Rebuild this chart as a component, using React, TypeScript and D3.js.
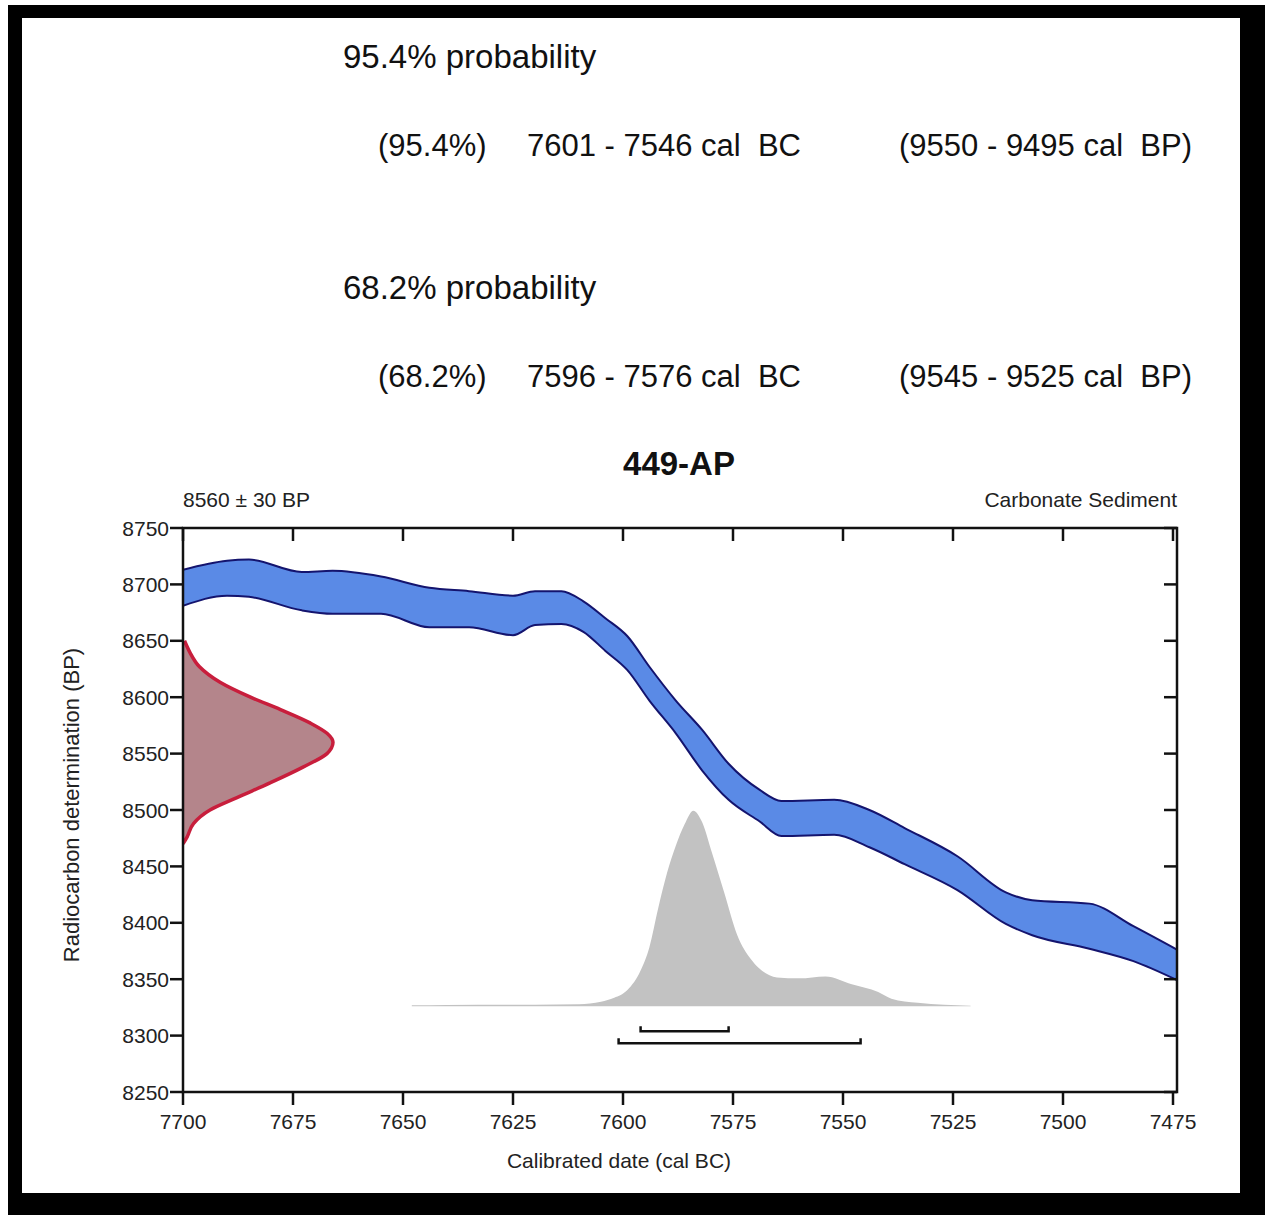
import { useEffect, useRef } from "react";
import * as d3 from "d3";

// axis ticks
const xTicks = [7700, 7675, 7650, 7625, 7600, 7575, 7550, 7525, 7500, 7475];
const yTicks = [8250, 8300, 8350, 8400, 8450, 8500, 8550, 8600, 8650, 8700, 8750];

// calibration curve band (cal BC, upper / lower BP)
const calYears = [7700, 7690, 7685, 7673, 7666, 7655, 7644, 7635, 7625, 7620, 7614, 7609, 7604, 7599, 7594, 7588, 7582, 7576, 7569, 7564, 7552, 7544, 7536, 7524, 7513, 7507, 7494, 7484, 7474];
const calUpper = [8713, 8721, 8722, 8711, 8712, 8707, 8697, 8694, 8690, 8694, 8694, 8685, 8670, 8654, 8627, 8597, 8571, 8541, 8518, 8508, 8509, 8500, 8484, 8459, 8427, 8420, 8417, 8397, 8376];
const calLower = [8681, 8690, 8689, 8677, 8674, 8674, 8662, 8662, 8655, 8664, 8665, 8658, 8641, 8624, 8597, 8568, 8535, 8509, 8490, 8477, 8478, 8467, 8452, 8429, 8399, 8389, 8377, 8366, 8349];

// radiocarbon measurement 8560 ± 30 BP (relative density)
const measuredBP = [8650, 8640, 8627, 8613, 8600, 8589, 8577, 8568, 8560, 8550, 8538, 8524, 8511, 8500, 8488, 8476, 8470];
const measuredDensity = [0.01, 0.045, 0.11, 0.25, 0.45, 0.65, 0.85, 0.96, 1, 0.96, 0.8, 0.58, 0.36, 0.18, 0.07, 0.027, 0];

// calibrated distribution (relative probability)
const calibratedYears = [7648, 7640, 7620, 7610, 7605, 7602, 7599, 7596, 7594, 7592, 7590, 7588, 7586, 7584, 7582, 7580, 7577, 7574, 7571, 7569, 7565, 7560, 7554, 7548, 7542, 7539, 7533, 7527, 7521];
const calibratedDensity = [0.002, 0.004, 0.005, 0.007, 0.02, 0.04, 0.08, 0.18, 0.3, 0.5, 0.68, 0.82, 0.93, 1, 0.94, 0.8, 0.58, 0.36, 0.24, 0.19, 0.145, 0.14, 0.15, 0.11, 0.07, 0.036, 0.015, 0.005, 0];

// hpd ranges
const range68 = [7596, 7576];
const range95 = [7601, 7546];

const probTitles = ["95.4% probability", "68.2% probability"];
const probPercents = ["(95.4%)", "(68.2%)"];
const probBC = ["7601 - 7546 cal  BC", "7596 - 7576 cal  BC"];
const probBP = ["(9550 - 9495 cal  BP)", "(9545 - 9525 cal  BP)"];

const labId = "449-AP";
const ageLabel = "8560 ± 30 BP";
const materialLabel = "Carbonate Sediment";

export default function App() {
  const svgRef = useRef<SVGSVGElement | null>(null);

  useEffect(() => {
    const width = 1265;
    const height = 1215;
    const left = 183;
    const right = 1177;
    const top = 528;
    const bottom = 1092;
    const font = "Arial, 'Liberation Sans', sans-serif";

    const svg = d3.select(svgRef.current);
    svg.attr("viewBox", `0 0 ${width} ${height}`);
    svg.selectAll("*").remove();

    // frame
    svg.append("rect").attr("x", 8).attr("y", 5).attr("width", width - 8).attr("height", height - 5).attr("fill", "#000");
    svg.append("rect").attr("x", 22).attr("y", 18).attr("width", 1218).attr("height", 1175).attr("fill", "#fff");

    // probability text blocks
    probTitles.forEach((t, i) => {
      const base = 68 + i * 231;
      svg.append("text").attr("x", 343).attr("y", base).attr("font-family", font).attr("font-size", 33).attr("fill", "#111").text(t);
      const row = svg.append("g").attr("font-family", font).attr("font-size", 31).attr("fill", "#111");
      row.append("text").attr("x", 378).attr("y", base + 88).text(probPercents[i]);
      row.append("text").attr("x", 527).attr("y", base + 88).attr("xml:space", "preserve").style("white-space", "pre").text(probBC[i]);
      row.append("text").attr("x", 1192).attr("y", base + 88).attr("text-anchor", "end")
        .attr("xml:space", "preserve").style("white-space", "pre").text(probBP[i]);
    });

    const x = d3.scaleLinear().domain([7700, 7475]).range([left, 1173]);
    const y = d3.scaleLinear().domain([8250, 8750]).range([bottom, top]);

    // titles
    svg.append("text").attr("x", 679).attr("y", 475).attr("text-anchor", "middle").attr("font-family", font)
      .attr("font-size", 33).attr("font-weight", "bold").attr("fill", "#111").text(labId);
    svg.append("text").attr("x", left).attr("y", 507).attr("font-family", font).attr("font-size", 21).attr("fill", "#222").text(ageLabel);
    svg.append("text").attr("x", right).attr("y", 507).attr("text-anchor", "end").attr("font-family", font).attr("font-size", 21).attr("fill", "#222").text(materialLabel);

    svg.append("defs").append("clipPath").attr("id", "plot-clip")
      .append("rect").attr("x", left).attr("y", top).attr("width", right - left).attr("height", bottom - top);
    const plot = svg.append("g").attr("clip-path", "url(#plot-clip)");

    // calibrated distribution
    const calibrated = calibratedYears.map((yr, i) => ({ yr, p: calibratedDensity[i] }));
    const probY = d3.scaleLinear().domain([0, 1]).range([y(8326), y(8326) - 195]);
    plot.append("path").datum(calibrated)
      .attr("d", d3.area<{ yr: number; p: number }>().x((d) => x(d.yr)).y0(y(8326)).y1((d) => probY(d.p) - 0.6).curve(d3.curveMonotoneX))
      .attr("fill", "#c2c2c2");

    // calibration curve band
    const band = calYears.map((yr, i) => ({ yr, hi: calUpper[i], lo: calLower[i] }));
    type B = { yr: number; hi: number; lo: number };
    plot.append("path").datum(band)
      .attr("d", d3.area<B>().x((d) => x(d.yr)).y0((d) => y(d.lo)).y1((d) => y(d.hi)).curve(d3.curveMonotoneX))
      .attr("fill", "#5a8ae6");
    plot.append("path").datum(band)
      .attr("d", d3.line<B>().x((d) => x(d.yr)).y((d) => y(d.hi)).curve(d3.curveMonotoneX))
      .attr("fill", "none").attr("stroke", "#14146e").attr("stroke-width", 2);
    plot.append("path").datum(band)
      .attr("d", d3.line<B>().x((d) => x(d.yr)).y((d) => y(d.lo)).curve(d3.curveMonotoneX))
      .attr("fill", "none").attr("stroke", "#14146e").attr("stroke-width", 2);

    // measurement distribution on the y axis
    const measured = measuredBP.map((bp, i) => ({ bp, p: measuredDensity[i] }));
    type M = { bp: number; p: number };
    const probX = d3.scaleLinear().domain([0, 1]).range([left, left + 150]);
    plot.append("path").datum(measured)
      .attr("d", d3.area<M>().y((d) => y(d.bp)).x0(left).x1((d) => probX(d.p)).curve(d3.curveMonotoneY))
      .attr("fill", "#b4858b");
    plot.append("path").datum(measured)
      .attr("d", d3.line<M>().y((d) => y(d.bp)).x((d) => probX(d.p)).curve(d3.curveMonotoneY))
      .attr("fill", "none").attr("stroke", "#c81e3c").attr("stroke-width", 3.5);

    // hpd range brackets
    [range68, range95].forEach((r, i) => {
      const by = y(8326) + 25 + i * 12;
      const x0 = x(r[0]);
      const x1 = x(r[1]);
      svg.append("path").attr("d", `M${x0},${by - 5}V${by}H${x1}V${by - 5}`)
        .attr("fill", "none").attr("stroke", "#111").attr("stroke-width", 2.5);
    });

    // axes frame
    svg.append("rect").attr("x", left).attr("y", top).attr("width", right - left).attr("height", bottom - top)
      .attr("fill", "none").attr("stroke", "#111").attr("stroke-width", 2.5);

    const tickLen = 13;
    const ticks = svg.append("g").attr("stroke", "#111").attr("stroke-width", 2.5);
    xTicks.forEach((t) => {
      ticks.append("line").attr("x1", x(t)).attr("x2", x(t)).attr("y1", bottom).attr("y2", bottom + tickLen);
      ticks.append("line").attr("x1", x(t)).attr("x2", x(t)).attr("y1", top).attr("y2", top + tickLen);
    });
    yTicks.forEach((t) => {
      ticks.append("line").attr("x1", left - tickLen).attr("x2", left).attr("y1", y(t)).attr("y2", y(t));
      ticks.append("line").attr("x1", right - tickLen).attr("x2", right).attr("y1", y(t)).attr("y2", y(t));
    });

    const labels = svg.append("g").attr("font-family", font).attr("font-size", 21).attr("fill", "#222");
    xTicks.forEach((t) => {
      labels.append("text").attr("x", x(t)).attr("y", bottom + 37).attr("text-anchor", "middle").text(t);
    });
    yTicks.forEach((t) => {
      labels.append("text").attr("x", left - 14).attr("y", y(t)).attr("dy", "0.36em").attr("text-anchor", "end").text(t);
    });

    labels.append("text").attr("x", 619).attr("y", 1168).attr("text-anchor", "middle").text("Calibrated date (cal BC)");
    labels.append("text").attr("transform", `translate(79,805) rotate(-90)`).attr("text-anchor", "middle")
      .attr("font-size", 22).text("Radiocarbon determination (BP)");
  }, []);

  return (
    <svg
      ref={svgRef}
      width={1265}
      height={1215}
      style={{ position: "absolute", left: 0, top: 0, display: "block" }}
    />
  );
}
